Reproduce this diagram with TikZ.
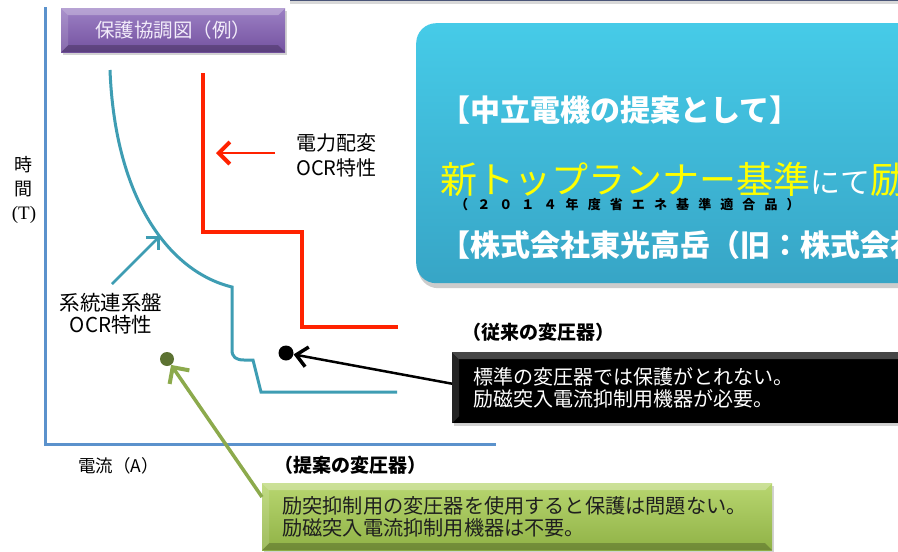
\documentclass[tikz,border=0pt]{standalone}
\usepackage{fontspec}
\setmainfont{Noto Sans CJK JP}
\newfontfamily\serifT{Liberation Serif}
\newfontfamily\spacedcjk[LetterSpace=70]{Noto Sans CJK JP}
\usetikzlibrary{arrows.meta,shadows}
\definecolor{axisblue}{HTML}{5B92CC}
\definecolor{tealc}{HTML}{3E9DB3}
\definecolor{redc}{HTML}{FF2200}
\definecolor{purtop}{HTML}{9C80C4}
\definecolor{purbot}{HTML}{7452A0}
\definecolor{cyantop}{HTML}{46CBE8}
\definecolor{cyanbot}{HTML}{37A5C6}
\definecolor{greentop}{HTML}{B8D670}
\definecolor{greenbot}{HTML}{90B246}
\definecolor{greenarrow}{HTML}{8CAA4C}
\definecolor{greendot}{HTML}{5C7232}
\definecolor{labelyellow}{HTML}{FFFF00}
\definecolor{topedge}{HTML}{4A5578}
\definecolor{purtext}{HTML}{F2ECFA}
\tikzset{
  bevelbox/.style={inner sep=0pt, anchor=north west,
    drop shadow={shadow xshift=2pt, shadow yshift=-3pt, opacity=0.35},
    path picture={
      \fill[white,opacity=0.28] (path picture bounding box.north west) -- (path picture bounding box.north east)
        -- ([xshift=-7pt,yshift=-7pt]path picture bounding box.north east) -- ([xshift=7pt,yshift=-7pt]path picture bounding box.north west) -- cycle;
      \fill[white,opacity=0.14] (path picture bounding box.north west) -- ([xshift=7pt,yshift=-7pt]path picture bounding box.north west)
        -- ([xshift=7pt,yshift=7pt]path picture bounding box.south west) -- (path picture bounding box.south west) -- cycle;
      \fill[black,opacity=0.22] (path picture bounding box.south west) -- (path picture bounding box.south east)
        -- ([xshift=-7pt,yshift=7pt]path picture bounding box.south east) -- ([xshift=7pt,yshift=7pt]path picture bounding box.south west) -- cycle;
    }},
  axisline/.style={axisblue, line width=3pt},
  tealline/.style={tealc, line width=3pt},
  redline/.style={redc, line width=4.5pt, line join=miter},
  lbl/.style={inner sep=0pt, text=black},
  dotnode/.style={circle, inner sep=0pt, minimum size=#1},
}
\begin{document}
\begin{tikzpicture}[x=1pt,y=-1pt]
\clip (0,0) rectangle (898,552);
\fill[white] (0,0) rectangle (898,552);

% cropped box at the top
\fill[white, drop shadow={shadow xshift=0pt, shadow yshift=-3pt, opacity=0.3}] (290,-50) rectangle (910,1);
\draw[topedge, line width=1.5pt] (290,0.6) -- (910,0.6);

% axes
\draw[axisline] (45,7) -- (45,444) -- (496,444);

% purple title box
\node[bevelbox, top color=purtop, bottom color=purbot, minimum width=224pt, minimum height=44pt,
      text=purtext, font=\fontsize{19.5}{19.5}\selectfont] (title) at (61,8) {保護協調図（例）};

% curves
\draw[tealline] (110,70) .. controls (115,200) and (170,272) .. (232,287)
   -- (232,350) .. controls (232,357) and (236,360) .. (244,360) -- (253,360) -- (261,392) -- (397,392);
\draw[redline] (203,73) -- (203,232) -- (302,232) -- (302,327) -- (398,327);

% axis labels
\node[lbl, align=center, font=\fontsize{18}{24}\selectfont] (tlabel) at (24,190) {時\\間\\{\serifT\fontsize{19}{24}\selectfont (T)}};
\node[lbl, anchor=west, font=\fontsize{17.5}{17.5}\selectfont] (alabel) at (78,466) {電流（A）};

% curve labels
\node[lbl, anchor=west, align=left, font=\fontsize{20}{25}\selectfont] (redlabel) at (296,155) {電力配変\\OCR特性};
\coordinate (redstart) at (275,153);
\coordinate (redend) at (216,153);
\draw[redc, line width=2pt, -{Straight Barb[length=11pt,width=22pt,line width=4pt]}] (redstart) -- (redend);

\node[lbl, align=center, font=\fontsize{20.5}{22}\selectfont] (ocrlabel) at (111,314) {系統連系盤\\OCR特性};
\coordinate (curvept) at (160,236);
\draw[tealc, line width=2.5pt, -{Straight Barb[length=9pt,width=18pt,line width=3pt]}] (112,284) -- (curvept);

% dots
\node[dotnode=15pt, fill=black] (dotblack) at (286,353) {};
\node[dotnode=14pt, fill=greendot] (dotgreen) at (167,359) {};

% headings
\node[lbl, anchor=west, font=\fontsize{19}{19}\selectfont\bfseries] (conv) at (462,332) {（従来の変圧器）};
\node[lbl, anchor=west, font=\fontsize{19}{19}\selectfont\bfseries] (prop) at (274,465) {（提案の変圧器）};

% black box
\node[bevelbox, fill=black, text=white, minimum height=71pt, inner xsep=21pt, text width=480pt, align=left,
      font=\fontsize{20}{21.5}\selectfont] (blackbox) at (452,352)
      {標準の変圧器では保護がとれない。\\励磁突入電流抑制用機器が必要。};
\draw[black, line width=2.5pt, -{Straight Barb[length=11pt,width=20pt,line width=3.5pt]}] ([yshift=4pt]blackbox.west) -- (dotblack);

% green box
\node[bevelbox, top color=greentop, bottom color=greenbot, text=black!88, minimum height=67pt, inner xsep=20pt,
      text width=470pt, align=left, font=\fontsize{20.2}{22}\selectfont] (greenbox) at (262,483)
      {励突抑制用の変圧器を使用すると保護は問題ない。\\励磁突入電流抑制用機器は不要。};
\draw[greenarrow, line width=3.5pt, -{Straight Barb[length=12pt,width=24pt,line width=4pt]}] ([yshift=-14pt]greenbox.north west) -- (dotgreen);

% cyan box
\node[inner sep=0pt, anchor=north west, rounded corners=20pt, top color=cyantop, bottom color=cyanbot,
      minimum width=600pt, minimum height=260pt,
      drop shadow={shadow xshift=2pt, shadow yshift=-5pt, opacity=0.4}] (cyanbox) at (416,23) {};
\node[lbl, anchor=base west, text=white, font=\fontsize{30}{30}\selectfont\bfseries] (line1) at (440,121) {【中立電機の提案として】};
\node[lbl, anchor=base west, font=\fontsize{37}{37}\selectfont] (line2) at (440,193)
   {\textcolor{labelyellow}{新トップランナー基準}{\fontsize{30}{30}\selectfont\textcolor{white}{にて}}\textcolor{labelyellow}{励}};
\node[lbl, anchor=base west, font=\spacedcjk\bfseries\fontsize{13}{13}\selectfont] (line2s) at (455,209) {（２０１４年度省エネ基準適合品）};
\node[lbl, anchor=base west, text=white, font=\fontsize{30}{30}\selectfont\bfseries] (line3) at (440,256) {【株式会社東光高岳（旧：株式会社};
\end{tikzpicture}
\end{document}
